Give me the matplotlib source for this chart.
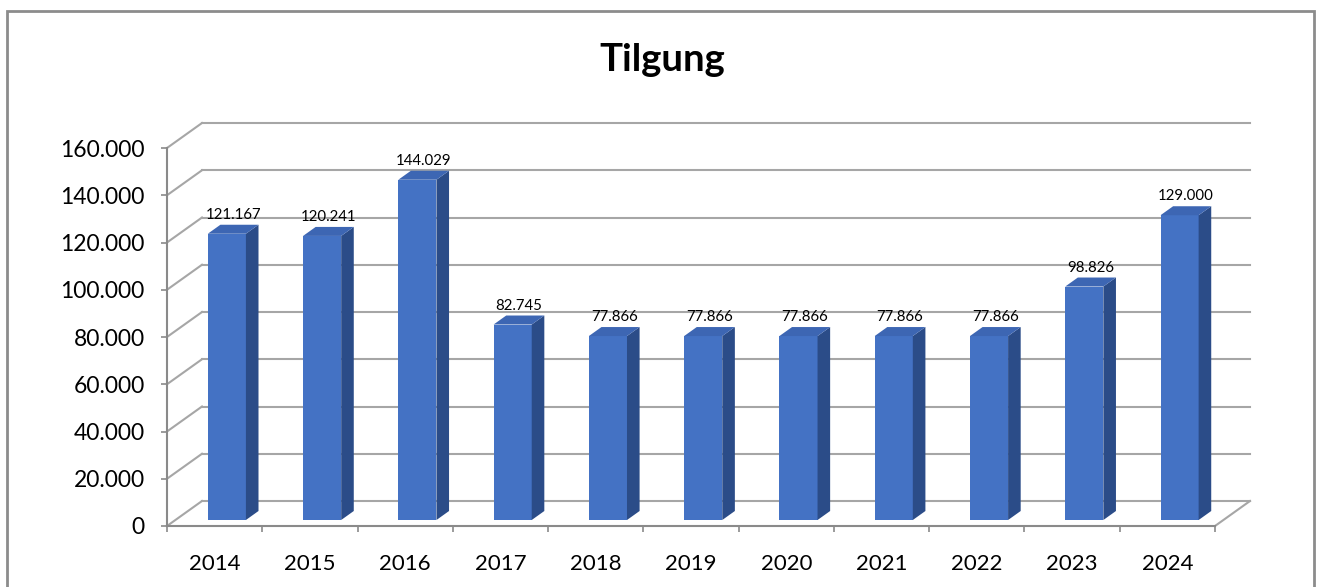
import matplotlib.pyplot as plt
from matplotlib.patches import Polygon, Rectangle

years = ["2014", "2015", "2016", "2017", "2018", "2019",
         "2020", "2021", "2022", "2023", "2024"]
tilgung = [121167, 120241, 144029, 82745, 77866, 77866,
           77866, 77866, 77866, 98826, 129000]
y_ticks = [0, 20000, 40000, 60000, 80000, 100000, 120000, 140000, 160000]

W, H, DPI = 1317, 587, 100
# pixel box of the front plane
AX_L, AX_R, AX_TOP, AX_BOT = 167, 1215, 148, 526
DX, DY = 35, 25          # depth of the back wall, px
F0, F1 = 0.24, 0.60      # front / back of the columns as depth fraction
BAR_SHIFT, BAR_W = -0.16, 0.40

FRONT = "#4472c4"
SIDE = "#2b4c88"
TOP = "#3d66b3"
GRID = "#a6a6a6"
AXIS = "#8a8a8a"


def fmt(v):
    return f"{v:,}".replace(",", ".")


def main():
    plt.rcParams["font.family"] = ["Lato", "DejaVu Sans"]
    fig = plt.figure(figsize=(W / DPI, H / DPI), dpi=DPI)
    ax = fig.add_axes([AX_L / W, 1 - AX_BOT / H,
                       (AX_R - AX_L) / W, (AX_BOT - AX_TOP) / H])
    n = len(years)
    ax.set_xlim(-0.5, n - 0.5)
    ax.set_ylim(0, 160000)

    ppc = (AX_R - AX_L) / n            # px per category
    ppv = (AX_BOT - AX_TOP) / 160000   # px per value unit

    def sx(f):
        return f * DX / ppc

    def sy(f):
        return f * DY / ppv

    # back wall grid + side wall diagonals
    x0, x1 = -0.5, n - 0.5
    for v in y_ticks:
        ax.plot([x0 + sx(1), x1 + sx(1)], [v + sy(1), v + sy(1)],
                color=GRID, lw=1.5, clip_on=False, zorder=1)
        ax.plot([x0, x0 + sx(1)], [v, v + sy(1)],
                color=GRID, lw=1.5, clip_on=False, zorder=1)
    ax.plot([x1, x1 + sx(1)], [0, sy(1)], color=GRID, lw=1.5,
            clip_on=False, zorder=1)

    # columns
    xs = [i + BAR_SHIFT for i in range(n)]
    ax.bar([x + sx(F0) for x in xs], tilgung, width=BAR_W, align="edge",
           bottom=sy(F0), color=FRONT, zorder=3, clip_on=False)
    for x, v in zip(xs, tilgung):
        l, r = x, x + BAR_W
        side = [(r + sx(F0), sy(F0)), (r + sx(F0), v + sy(F0)),
                (r + sx(F1), v + sy(F1)), (r + sx(F1), sy(F1))]
        top = [(l + sx(F0), v + sy(F0)), (r + sx(F0), v + sy(F0)),
               (r + sx(F1), v + sy(F1)), (l + sx(F1), v + sy(F1))]
        ax.add_patch(Polygon(side, closed=True, fc=SIDE, ec="none",
                             zorder=3, clip_on=False))
        ax.add_patch(Polygon(top, closed=True, fc=TOP, ec="none",
                             zorder=3, clip_on=False))
        ax.annotate(fmt(v), ((l + r) / 2 + (sx(F0) + sx(F1)) / 2, v + sy(F1)),
                    xytext=(0, 2), textcoords="offset points",
                    ha="center", va="bottom", fontsize=10.8, color="#000000",
                    annotation_clip=False)

    # axes
    for s in ("top", "right"):
        ax.spines[s].set_visible(False)
    for s in ("left", "bottom"):
        ax.spines[s].set_color(AXIS)
        ax.spines[s].set_linewidth(1.5)
    ax.set_yticks(y_ticks)
    ax.set_yticklabels([fmt(v) for v in y_ticks])
    ax.tick_params(axis="y", length=4, width=1.2, color=AXIS,
                   pad=12, labelsize=16.5)
    ax.set_xticks([i - 0.5 for i in range(n + 1)])
    ax.set_xticklabels([])
    ax.set_xticks(range(n), minor=True)
    ax.set_xticklabels(years, minor=True)
    ax.tick_params(axis="x", which="major", length=4, width=1.2, color=AXIS)
    ax.tick_params(axis="x", which="minor", length=0, pad=20, labelsize=16)
    ax.patch.set_alpha(0)

    fig.text(662 / W, 1 - 60 / H, "Tilgung", ha="center", va="center",
             fontsize=27.5, fontweight="bold")

    fig.patches.append(Rectangle((7 / W, -0.05), 1307 / W, 1 - 11 / H + 0.05,
                                 transform=fig.transFigure, fill=False,
                                 ec="#8c8c8c", lw=2))

    fig.savefig("out.png", dpi=DPI)


if __name__ == "__main__":
    main()
